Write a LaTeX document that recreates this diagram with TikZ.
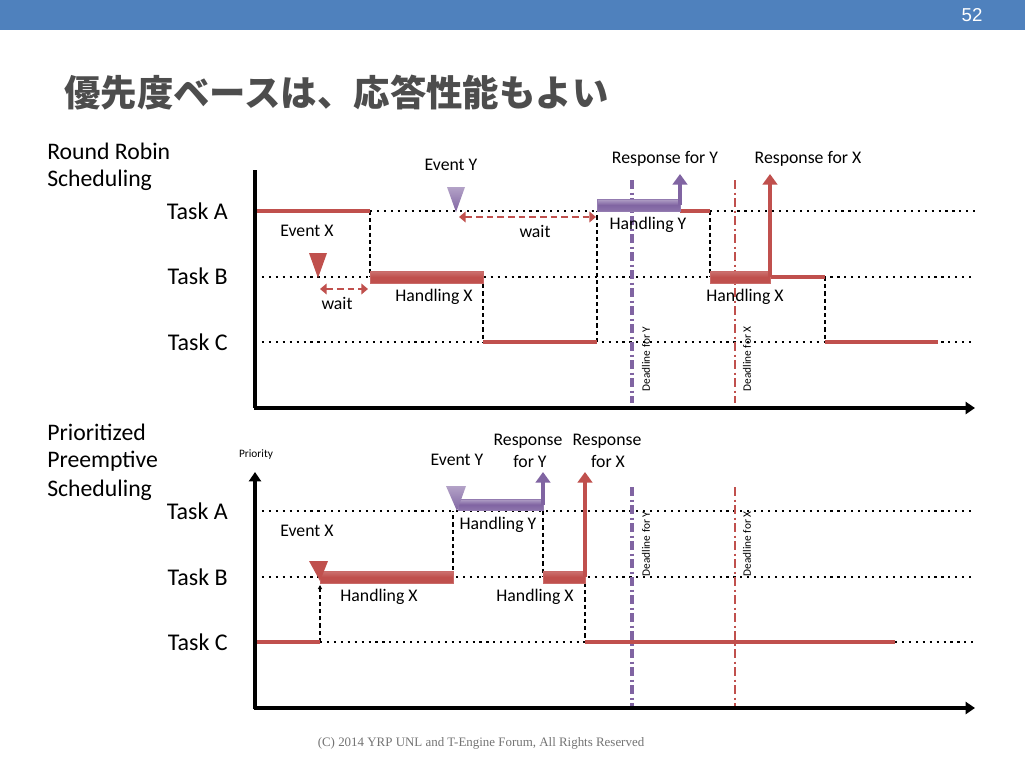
\documentclass[tikz,border=0pt]{standalone}
\usepackage{fontspec}
\setmainfont{Carlito}
\newfontfamily\cjkfont{Noto Sans CJK JP}
\newfontfamily\serffont{Liberation Serif}
\newfontfamily\hdrfont{Liberation Sans}
\usetikzlibrary{arrows.meta}
\definecolor{rr}{HTML}{C0504D}
\definecolor{pp}{HTML}{8064A2}
\definecolor{hdr}{HTML}{4F81BD}
\definecolor{ttl}{HTML}{4D4D4D}
\begin{document}
\begin{tikzpicture}[x=0.75pt,y=-0.75pt,
  lbl/.style={font=\fontsize{13.3}{15}\selectfont, inner sep=0pt},
  task/.style={font=\fontsize{18}{20}\selectfont, anchor=east, inner sep=0pt},
  big/.style={font=\fontsize{17.8}{20}\selectfont, anchor=west, inner sep=0pt},
  dl/.style={font=\fontsize{8.5}{9}\selectfont, rotate=90, inner sep=0pt},
  axis/.style={line width=2.6pt, -{Triangle[width=9pt,length=7pt]}},
  dotl/.style={line width=1.6pt, dash pattern=on 1.6pt off 3.6pt},
  runl/.style={draw=rr, line width=2.6pt},
  swl/.style={line width=1.1pt, dash pattern=on 3.2pt off 2.2pt},
  rbar/.style={draw=rr!85!white, line width=0.4pt, top color=rr!80!white, bottom color=rr, middle color=rr},
  pbar/.style={draw=pp!85!white, line width=0.4pt, top color=pp!60!white, bottom color=pp!90!white, middle color=pp},
  rtri/.style={fill=rr, draw=none},
  ptri/.style={top color=pp!60!white, bottom color=pp, draw=none},
  resp/.style={line width=2.6pt, -{Triangle[width=11pt,length=8pt]}},
  waita/.style={draw=rr, line width=2.2pt, dash pattern=on 5pt off 3pt, {Triangle[width=8pt,length=5pt]}-{Triangle[width=8pt,length=5pt]}},
  dly/.style={draw=pp, line width=2.4pt, dash pattern=on 7pt off 2.5pt on 1.5pt off 2.5pt},
  dlx/.style={draw=rr, line width=2pt, dash pattern=on 7pt off 2.5pt on 1.5pt off 2.5pt}
]
\useasboundingbox (0,0) rectangle (1025,769);
\fill[white] (0,0) rectangle (1025,769);
% header
\fill[hdr] (0,0) rectangle (1025,30);
\node[font=\hdrfont\fontsize{14}{15}\selectfont, text=white, inner sep=0pt] (pg) at (972,15) {52};
\node[font=\cjkfont\bfseries\fontsize{27.3}{30}\selectfont, text=ttl, anchor=west, inner sep=0pt] (title) at (64,93) {優先度ベースは、応答性能もよい};

% ================= TOP DIAGRAM =================
\node[big] (rr1) at (47,151) {Round Robin};
\node[big] (rr2) at (47,180) {Scheduling};
\node[task] (tA1) at (228,211) {Task A};
\node[task] (tB1) at (228,276) {Task B};
\node[task] (tC1) at (228,342) {Task C};

% dotted levels
\draw[dotl] (370,211) -- (975,211);
\draw[dotl] (255,277) -- (975,277);
\draw[dotl] (255,342) -- (975,342);

% deadlines
\draw[dly] (632,180) -- (632,403);
\draw[dlx] (735,180) -- (735,403);
\node[dl] (dy1) at (646,359) {Deadline for Y};
\node[dl] (dx1) at (747,359) {Deadline for X};

% switch lines
\draw[swl] (370,211) -- (370,277);
\draw[swl] (483,277) -- (483,342);
\draw[swl] (597,342) -- (597,211);
\draw[swl] (710,211) -- (710,277);
\draw[swl] (825,277) -- (825,342);

% run lines
\draw[runl] (255,211) -- (370,211);
\draw[runl] (483,342) -- (597,342);
\draw[runl] (680,211) -- (710,211);
\draw[runl] (770,277) -- (825,277);
\draw[runl] (825,342) -- (938,342);

% bars
\draw[rbar] (370,271) rectangle (483,283);
\draw[pbar] (597,199) rectangle (680,211);
\draw[rbar] (710,271) rectangle (770,283);

% responses
\draw[resp, draw=pp] (680,205) -- (680,174);
\draw[resp, draw=rr] (770,277) -- (770,174);

% events
\path[ptri] (447,187) -- (465,187) -- (456,212) -- cycle;
\path[rtri] (309,253) -- (327,253) -- (318,278) -- cycle;

% waits
\draw[waita] (459,217) -- (596,217);
\draw[waita] (320,289) -- (368,289);

% labels
\node[lbl] (evy1) at (451,165) {Event Y};
\node[lbl] (evx1) at (307,231) {Event X};
\node[lbl] (w1) at (535,231) {wait};
\node[lbl] (w2) at (337,303) {wait};
\node[lbl] (hx1) at (434,297) {Handling X};
\node[lbl] (hy1) at (648,225) {Handling Y};
\node[lbl] (hx2) at (745,297) {Handling X};
\node[lbl] (ry1) at (665,159) {Response for Y};
\node[lbl] (rx1) at (808,159) {Response for X};

% axes
\draw[line width=2.6pt] (255,170) -- (255,408);
\draw[axis] (254,408) -- (975,408);

% ================= BOTTOM DIAGRAM =================
\node[big] (pp1) at (47,432) {Prioritized};
\node[big] (pp2) at (47,461) {Preemptive};
\node[big] (pp3) at (47,490) {Scheduling};
\node[task] (tA2) at (228,511) {Task A};
\node[task] (tB2) at (228,577) {Task B};
\node[task] (tC2) at (228,642) {Task C};
\node[font=\fontsize{8.5}{9}\selectfont, inner sep=0pt] (prio) at (256,455) {Priority};

\draw[dotl] (255,511) -- (975,511);
\draw[dotl] (255,577) -- (975,577);
\draw[dotl] (320,642) -- (585,642);
\draw[dotl] (895,642) -- (975,642);

\draw[dly] (632,487) -- (632,708);
\draw[dlx] (735,487) -- (735,708);
\node[dl] (dy2) at (646,544) {Deadline for Y};
\node[dl] (dx2) at (747,544) {Deadline for X};

\draw[swl, -{Triangle[width=3pt,length=3pt]}] (320,642) -- (320,585);
\draw[swl] (453,577) -- (453,511);
\draw[swl] (543,511) -- (543,577);
\draw[swl] (585,583) -- (585,642);

\draw[runl] (255,642) -- (320,642);
\draw[runl] (585,642) -- (895,642);

\draw[rbar] (320,571) rectangle (453,583);
\draw[pbar] (458,499) rectangle (543,510);
\draw[rbar] (543,571) rectangle (585,583);

\draw[resp, draw=pp] (543,505) -- (543,472);
\draw[resp, draw=rr] (585,577) -- (585,472);

\path[ptri] (446,486) -- (466,486) -- (457,511) -- cycle;
\path[rtri] (309,561) -- (328,561) -- (320,581) -- cycle;

\node[lbl] (evy2) at (457,460) {Event Y};
\node[lbl] (evx2) at (307,531) {Event X};
\node[lbl] (hx3) at (379,597) {Handling X};
\node[lbl] (hy2) at (498,525) {Handling Y};
\node[lbl] (hx4) at (535,597) {Handling X};
\node[lbl] (ry2a) at (528,441) {Response};
\node[lbl] (rx2a) at (607,441) {Response};
\node[lbl] (ry2b) at (530,461) {for Y};
\node[lbl] (rx2b) at (608,461) {for X};

\draw[axis] (255,709) -- (255,472);
\draw[axis] (254,708) -- (975,708);

\node[font=\serffont\fontsize{9.7}{11}\selectfont, text=black!55, inner sep=0pt] (copy) at (481,743) {(C) 2014 YRP UNL and T-Engine Forum, All Rights Reserved};
\end{tikzpicture}
\end{document}
